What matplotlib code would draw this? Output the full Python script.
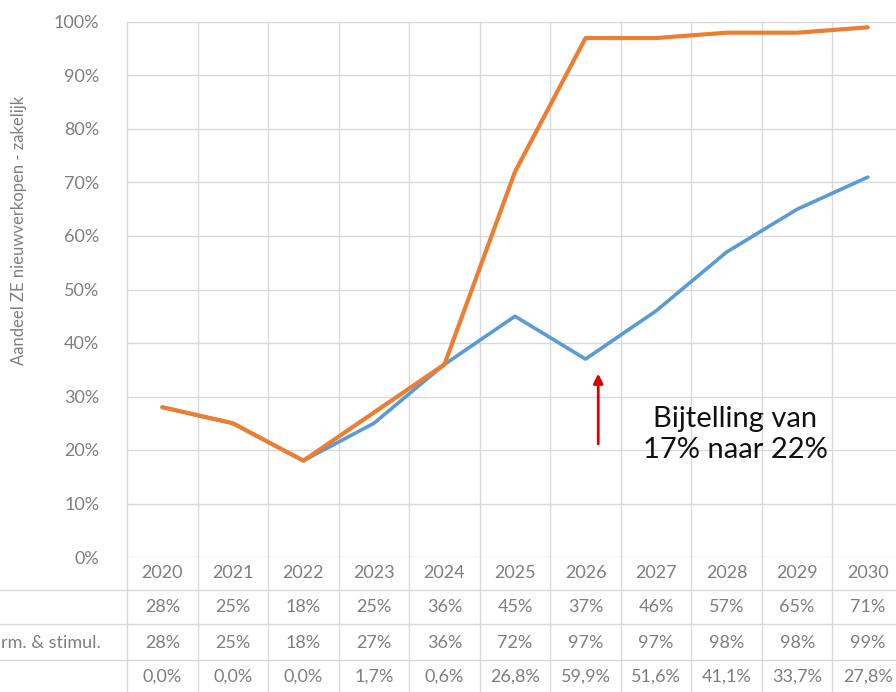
import numpy as np
import matplotlib.pyplot as plt
from matplotlib.transforms import blended_transform_factory

plt.rcParams["font.family"] = ["Lato", "DejaVu Sans"]

# Data
years = ["2020", "2021", "2022", "2023", "2024", "2025", "2026", "2027", "2028", "2029", "2030"]
basis = [28, 25, 18, 25, 36, 45, 37, 46, 57, 65, 71]
norm_stimul = [28, 25, 18, 27, 36, 72, 97, 97, 98, 98, 99]
verschil = ["0,0%", "0,0%", "0,0%", "1,7%", "0,6%", "26,8%", "59,9%", "51,6%", "41,1%", "33,7%", "27,8%"]
yticks = [0, 10, 20, 30, 40, 50, 60, 70, 80, 90, 100]

grid_c = "#d9d9d9"
text_c = "#7f7f7f"
fs = 13

W, H = 896, 692
fig = plt.figure(figsize=(W / 100, H / 100), dpi=100)
ax = fig.add_axes([127 / W, 1 - 557 / H, 776 / W, 535 / H])

x = np.arange(len(years))
ax.plot(x, basis, color="#5B9BD5", lw=2.6, solid_capstyle="round", zorder=3)
ax.plot(x, norm_stimul, color="#ED7D31", lw=3.0, solid_capstyle="round", zorder=4)

ax.set_xlim(-0.5, len(years) - 0.5)
ax.set_ylim(0, 100)
ax.set_yticks(yticks)
ax.set_yticklabels([f"{v}%" for v in yticks], color=text_c, fontsize=fs)
ax.tick_params(axis="y", length=0, pad=20)
ax.set_xticks([])
for s in ax.spines.values():
    s.set_visible(False)
for v in yticks:
    ax.axhline(v, color=grid_c, lw=1, zorder=1)

ax.set_ylabel("Aandeel ZE nieuwverkopen - zakelijk", color=text_c, fontsize=12)
ax.yaxis.set_label_coords((27 - 127) / 776, 0.61)

# data table below the plot
tr = blended_transform_factory(ax.transData, fig.transFigure)
fy = lambda py: 1 - py / H
for xb in np.arange(-0.5, len(years)):
    ax.plot([xb, xb], [fy(692), fy(22)], color=grid_c, lw=1, transform=tr, clip_on=False, zorder=1)
x_left = -0.5 - 127 / 70.5
for py in [590, 624, 660]:
    ax.plot([x_left, len(years) - 0.5], [fy(py), fy(py)], color=grid_c, lw=1, transform=tr, clip_on=False)

rows = [
    (years, 573),
    ([f"{v}%" for v in basis], 607),
    ([f"{v}%" for v in norm_stimul], 643),
    (verschil, 677),
]
for labels, py in rows:
    for i, lab in enumerate(labels):
        ax.text(i, fy(py), lab, transform=tr, ha="center", va="center", color=text_c, fontsize=fs)
fig.text(1 / W, fy(643), "rm. & stimul.", ha="left", va="center", color=text_c, fontsize=fs)

# annotation
ax.annotate("", xy=(6.18, 34.8), xytext=(6.18, 20.6),
            arrowprops=dict(arrowstyle="-|>", color="#e00000", lw=2, mutation_scale=14), zorder=5)
ax.text(8.12, 22.9, "Bijtelling van\n17% naar 22%", ha="center", va="center",
        fontsize=21, color="#111111", linespacing=1.2, zorder=5)

fig.savefig("out.png", dpi=100)
